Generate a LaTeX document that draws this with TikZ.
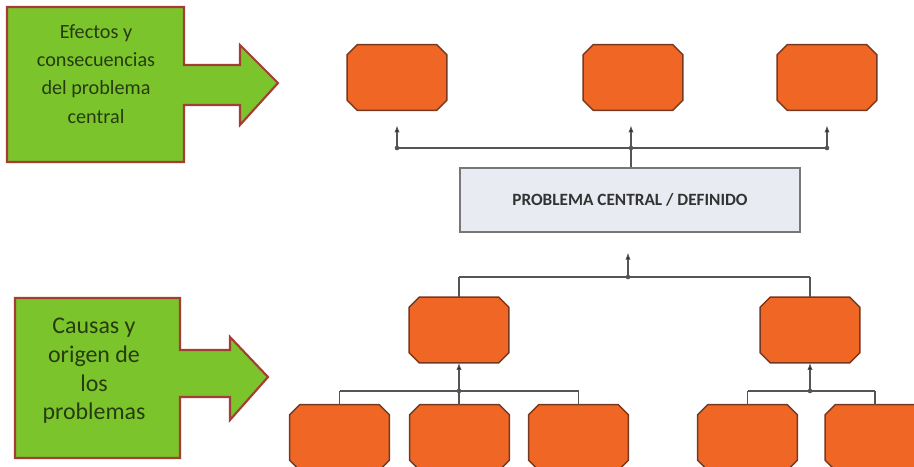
\documentclass[tikz,border=0pt]{standalone}
\usepackage{fontspec}
\setmainfont{Carlito}
\usetikzlibrary{arrows.meta}

\definecolor{boxorange}{RGB}{240,102,36}
\definecolor{orangeline}{RGB}{118,56,30}
\definecolor{arrowgreen}{RGB}{124,196,44}
\definecolor{greenline}{RGB}{162,62,52}
\definecolor{greentext}{RGB}{38,60,16}
\definecolor{centerfill}{RGB}{232,236,242}
\definecolor{linegray}{RGB}{85,85,85}

\begin{document}
\begin{tikzpicture}[x=0.02cm,y=-0.02cm,
  prob node/.style={rectangle,minimum width=1.98cm,minimum height=1.3cm,inner sep=0pt,
    append after command={\pgfextra{\filldraw[draw=orangeline,fill=boxorange,line width=0.8pt]
      ([xshift=0.2cm]\tikzlastnode.north west) -- ([xshift=-0.2cm]\tikzlastnode.north east)
      -- ([yshift=-0.2cm]\tikzlastnode.north east) -- ([yshift=0.2cm]\tikzlastnode.south east)
      -- ([xshift=-0.2cm]\tikzlastnode.south east) -- ([xshift=0.2cm]\tikzlastnode.south west)
      -- ([yshift=0.2cm]\tikzlastnode.south west) -- ([yshift=-0.2cm]\tikzlastnode.north west) -- cycle;}}},
  center node/.style={rectangle,draw=linegray!80,fill=centerfill,line width=0.7pt,
    minimum width=6.8cm,minimum height=1.28cm,font=\fontsize{9.8}{11}\selectfont\bfseries,text=black!80},
  side label/.style={align=center,text=greentext,font=\fontsize{11.5}{16}\selectfont},
  side arrow/.style={draw=greenline,fill=arrowgreen,line width=1.2pt,line join=miter},
  link/.style={draw=linegray,line width=0.6pt},
  up arrow/.style={-{Latex[length=4pt,width=3pt]}}]

  \path[use as bounding box] (0,0) rectangle (914,467);
  \clip (0,0) rectangle (914,467);

  % green boxes with arrows
  \draw[side arrow] (7,7) -- (184,7) -- (184,65) -- (240,65) -- (240,45) -- (278,83)
    -- (240,125) -- (240,105) -- (184,105) -- (184,162) -- (7,162) -- cycle;
  \node[side label] (effects) at (96,74) {Efectos y\\consecuencias\\del problema\\central};

  \draw[side arrow] (15,298) -- (180,298) -- (180,350) -- (230,350) -- (230,337) -- (268,377)
    -- (230,420) -- (230,397) -- (180,397) -- (180,458) -- (15,458) -- cycle;
  \node[side label,font=\fontsize{13.6}{16.3}\selectfont] (causes) at (94,371)
    {Causas y\\origen de\\los\\problemas};

  % effects
  \node[prob node] (e1) at (397,77.5) {};
  \node[prob node] (e2) at (633,77.5) {};
  \node[prob node] (e3) at (827,77.5) {};

  \node[center node] (pc) at (630,200) {PROBLEMA CENTRAL / DEFINIDO};

  % causes
  \node[prob node] (c1) at (459,330) {};
  \node[prob node] (c2) at (810,330) {};

  \node[prob node] (b1) at (339.5,437.5) {};
  \node[prob node] (b2) at (459.5,437.5) {};
  \node[prob node] (b3) at (578.5,437.5) {};
  \node[prob node] (b4) at (747.5,437.5) {};
  \node[prob node] (b5) at (875,437.5) {};

  \coordinate (jt) at (631,148);
  \coordinate (jm) at (628,277);
  \coordinate (jl) at (459,391);
  \coordinate (jr) at (810,391);

  \path[link]
   (jt |- pc.north) edge (jt)
   (e1 |- jt) edge (e3 |- jt)
   (jm -| c1) edge (jm -| c2)
   (jm -| c1) edge (c1.north)
   (jm -| c2) edge (c2.north)
   (b1 |- jl) edge (b3 |- jl)
   (b1 |- jl) edge (b1.north)
   (jl) edge (jl |- b2.north)
   (b3 |- jl) edge (b3.north)
   (b4 |- jr) edge (b5 |- jr)
   (b4 |- jr) edge (b4.north)
   (b5 |- jr) edge (b5.north)
   (e1 |- jt) edge[up arrow,shorten >=0.3cm] (e1.south)
   (jt) edge[up arrow,shorten >=0.3cm] (jt |- e2.south)
   (e3 |- jt) edge[up arrow,shorten >=0.3cm] (e3.south)
   (jm) edge[up arrow,shorten >=0.4cm] (jm |- pc.south)
   (jl) edge[up arrow] (c1.south)
   (jr) edge[up arrow] (c2.south);

  \foreach \j in {jt,jm,jl,jr}
    \fill[linegray] (\j) circle (1.3pt);
  \fill[linegray] (e1 |- jt) circle (1.3pt);
  \fill[linegray] (e3 |- jt) circle (1.3pt);
\end{tikzpicture}
\end{document}
